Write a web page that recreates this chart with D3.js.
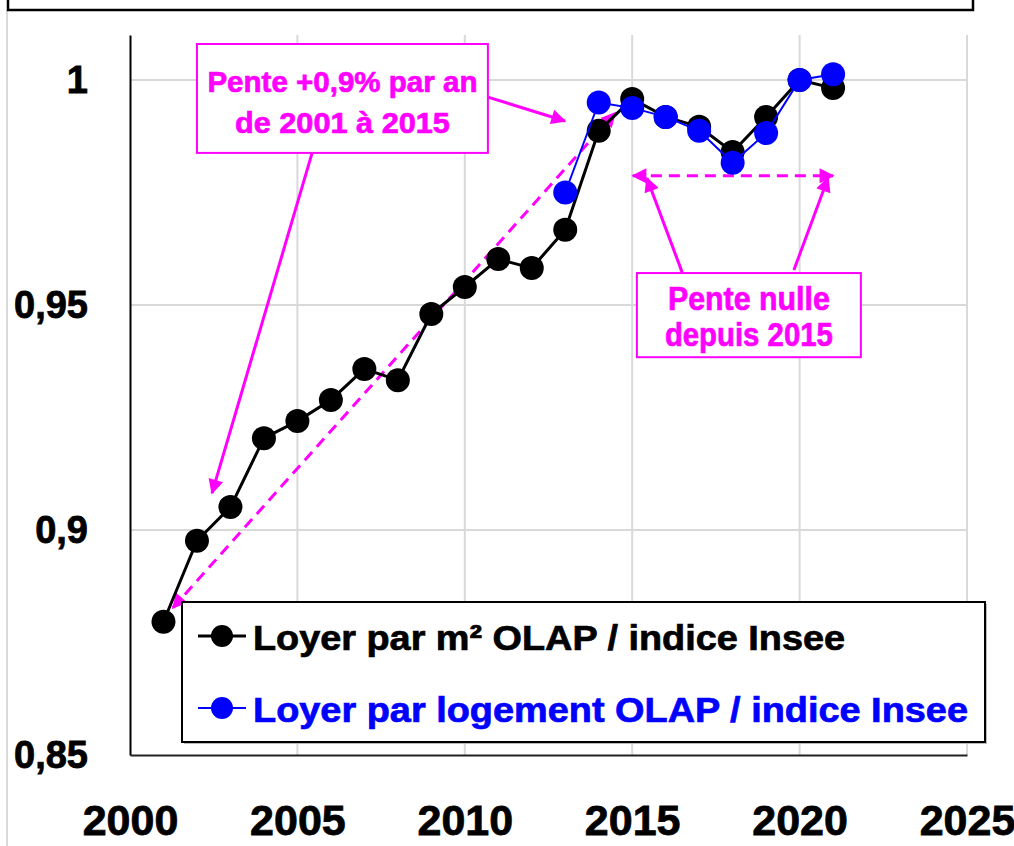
<!DOCTYPE html>
<html>
<head>
<meta charset="utf-8">
<script src="https://cdn.jsdelivr.net/npm/d3@7"></script>
<style>
  body { margin: 0; background: #fff; }
  svg { display: block; }
  text { font-family: "Liberation Sans", Arial, sans-serif; font-weight: bold; }
</style>
</head>
<body>
<div id="chart"></div>
<script>
// data
var yearsM2 = [2001, 2002, 2003, 2004, 2005, 2006, 2007, 2008, 2009, 2010, 2011,
               2012, 2013, 2014, 2015, 2016, 2017, 2018, 2019, 2020, 2021];
var valuesM2 = [0.8796, 0.8976, 0.9051, 0.9204, 0.9242, 0.9289, 0.9358, 0.9333, 0.948, 0.954, 0.9602,
                0.9582, 0.9667, 0.9887, 0.9958, 0.9918, 0.9896, 0.984, 0.9918, 1.0, 0.9982];
var yearsLog = [2013, 2014, 2015, 2016, 2017, 2018, 2019, 2020, 2021];
var valuesLog = [0.975, 0.995, 0.9938, 0.9918, 0.9887, 0.9816, 0.9882, 1.0, 1.0013];

var seriesNames = ["Loyer par m\u00b2 OLAP / indice Insee", "Loyer par logement OLAP / indice Insee"];
var xTicks = [2000, 2005, 2010, 2015, 2020, 2025];
var yTicks = [0.85, 0.9, 0.95, 1];
var yTickLabels = ["0,85", "0,9", "0,95", "1"];

// annotations, in data units
var note1Lines = ["Pente +0,9% par an", "de 2001 \u00e0 2015"];
var note2Lines = ["Pente nulle", "depuis 2015"];

var W = 1014, H = 846;
var pink = "#ff00ff";

var x = d3.scaleLinear().domain([2000, 2025]).range([130, 967]);
var y = d3.scaleLinear().domain([0.85, 1.01]).range([755, 35]);

var svg = d3.select("#chart").append("svg")
  .attr("width", W)
  .attr("height", H);

var defs = svg.append("defs");
defs.append("marker")
  .attr("id", "head")
  .attr("viewBox", "0 0 10 10")
  .attr("refX", 9).attr("refY", 5)
  .attr("markerWidth", 17).attr("markerHeight", 15)
  .attr("markerUnits", "userSpaceOnUse")
  .attr("orient", "auto-start-reverse")
  .append("path")
  .attr("d", "M0,0 L10,5 L0,10 Z")
  .attr("fill", pink);

// outer frame bits
svg.append("line")
  .attr("x1", 7).attr("x2", 7).attr("y1", 10).attr("y2", H)
  .attr("stroke", "#d9d9d9").attr("stroke-width", 2);
svg.append("rect")
  .attr("x", 8).attr("y", -40).attr("width", 965).attr("height", 50)
  .attr("fill", "#fff").attr("stroke", "#000").attr("stroke-width", 2.5);

// grid
svg.append("g").selectAll("line.h")
  .data(yTicks.slice(1))
  .enter().append("line")
  .attr("x1", x(2000)).attr("x2", x(2025))
  .attr("y1", function(d){ return y(d) }).attr("y2", function(d){ return y(d) })
  .attr("stroke", "#d9d9d9").attr("stroke-width", 2);
svg.append("g").selectAll("line.v")
  .data(xTicks.slice(1))
  .enter().append("line")
  .attr("x1", function(d){ return x(d) }).attr("x2", function(d){ return x(d) })
  .attr("y1", y(1.01)).attr("y2", y(0.85))
  .attr("stroke", "#d9d9d9").attr("stroke-width", 2);

// axes
var yAxis = d3.axisLeft(y)
  .tickValues(yTicks)
  .tickSize(0)
  .tickPadding(42)
  .tickFormat(function(d, i){ return yTickLabels[i] });
var yG = svg.append("g").attr("transform", "translate(" + x(2000) + ",0)").call(yAxis);
yG.select(".domain").attr("stroke", "#000").attr("stroke-width", 2);
yG.selectAll("text").attr("font-size", 38).attr("fill", "#000")
  .attr("stroke", "#000").attr("stroke-width", 0.8)
  .attr("font-family", "Liberation Sans, Arial, sans-serif").attr("font-weight", "bold");

var xAxis = d3.axisBottom(x)
  .tickValues(xTicks)
  .tickSize(0)
  .tickPadding(49)
  .tickFormat(d3.format("d"));
var xG = svg.append("g").attr("transform", "translate(0," + y(0.85) + ")").call(xAxis);
xG.select(".domain").attr("stroke", "#222").attr("stroke-width", 2);
xG.selectAll("text").attr("font-size", 43).attr("fill", "#000")
  .attr("stroke", "#000").attr("stroke-width", 0.8)
  .attr("font-family", "Liberation Sans, Arial, sans-serif").attr("font-weight", "bold");

// annotation helpers
function arrow(x1, y1, x2, y2, dashed, both) {
  var l = svg.append("line")
    .attr("x1", x(x1)).attr("y1", y(y1))
    .attr("x2", x(x2)).attr("y2", y(y2))
    .attr("stroke", pink).attr("stroke-width", 3)
    .attr("marker-end", "url(#head)");
  if (dashed) l.attr("stroke-dasharray", "11,7");
  if (both) l.attr("marker-start", "url(#head)");
}
function note(x0, x1, yTop, yBot, lines, baselines, lengths, size) {
  svg.append("rect")
    .attr("x", x(x0)).attr("y", y(yTop))
    .attr("width", x(x1) - x(x0)).attr("height", y(yBot) - y(yTop))
    .attr("fill", "#fff").attr("stroke", pink).attr("stroke-width", 2);
  lines.forEach(function(t, i){
    svg.append("text")
      .attr("x", (x(x0) + x(x1)) / 2).attr("y", y(baselines[i]))
      .attr("text-anchor", "middle")
      .attr("font-size", size)
      .attr("fill", pink)
      .attr("stroke", pink).attr("stroke-width", 0.7)
      .attr("textLength", lengths[i])
      .attr("lengthAdjust", "spacingAndGlyphs")
      .text(t);
  });
}

// dashed trend arrows (drawn under the points)
arrow(2001.28, 0.8827, 2014.49, 0.9927, true, true);
arrow(2015.02, 0.9787, 2021.0, 0.9787, true, true);

// series
var lineGen = d3.line()
  .x(function(d){ return x(d[0]) })
  .y(function(d){ return y(d[1]) });

var m2 = d3.zip(yearsM2, valuesM2);
var lg = d3.zip(yearsLog, valuesLog);

svg.append("path").datum(m2)
  .attr("d", lineGen).attr("fill", "none")
  .attr("stroke", "#000").attr("stroke-width", 3);
svg.append("g").selectAll("circle")
  .data(m2).enter().append("circle")
  .attr("cx", function(d){ return x(d[0]) })
  .attr("cy", function(d){ return y(d[1]) })
  .attr("r", 12).attr("fill", "#000");

svg.append("path").datum(lg)
  .attr("d", lineGen).attr("fill", "none")
  .attr("stroke", "#0000ff").attr("stroke-width", 2);
svg.append("g").selectAll("circle")
  .data(lg).enter().append("circle")
  .attr("cx", function(d){ return x(d[0]) })
  .attr("cy", function(d){ return y(d[1]) })
  .attr("r", 12).attr("fill", "#0000ff");

// solid arrows and boxes
arrow(2010.69, 0.9962, 2012.99, 0.9909, false, false);
arrow(2005.44, 0.9838, 2002.45, 0.9082, false, false);
note(2002.0, 2010.69, 1.008, 0.9838, note1Lines, [0.9973, 0.9882], [270, 215], 30);

arrow(2016.49, 0.9573, 2015.44, 0.9782, false, false);
arrow(2019.83, 0.9578, 2020.85, 0.9782, false, false);
note(2015.14, 2021.83, 0.9571, 0.9384, note2Lines, [0.9489, 0.9409], [162, 168], 34);

// legend
var legend = svg.append("g").attr("transform", "translate(182,602)");
legend.append("rect")
  .attr("x", 2).attr("y", 2).attr("width", 803).attr("height", 140)
  .attr("fill", "#bbb");
legend.append("rect")
  .attr("width", 803).attr("height", 140)
  .attr("fill", "#fff").attr("stroke", "#000").attr("stroke-width", 2);

var legColors = ["#000", "#0000ff"];
var legLengths = [592, 715];
seriesNames.forEach(function(name, i){
  var g = legend.append("g").attr("transform", "translate(0," + (34 + i * 72) + ")");
  g.append("line").attr("x1", 16).attr("x2", 64)
    .attr("stroke", legColors[i]).attr("stroke-width", i === 0 ? 3 : 2);
  g.append("circle").attr("cx", 40).attr("r", 11).attr("fill", legColors[i]);
  g.append("text")
    .attr("x", 71).attr("y", 14)
    .attr("font-size", 35)
    .attr("fill", legColors[i])
    .attr("stroke", legColors[i]).attr("stroke-width", 0.7)
    .attr("textLength", legLengths[i])
    .attr("lengthAdjust", "spacingAndGlyphs")
    .text(name);
});
</script>
</body>
</html>
